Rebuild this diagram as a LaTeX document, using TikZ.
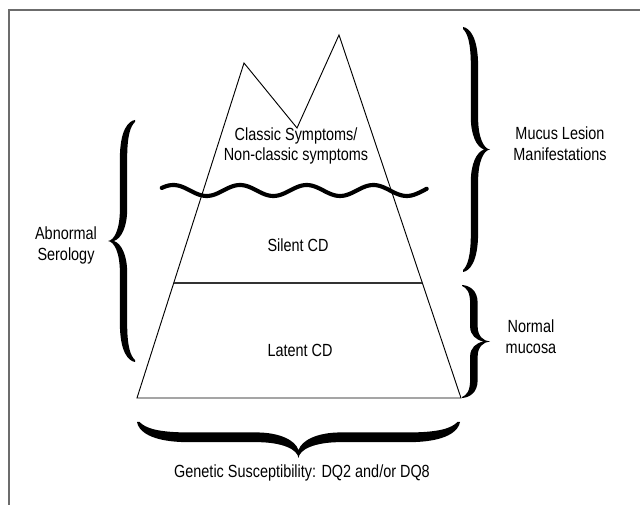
\documentclass[tikz,border=0pt]{standalone}
\usepackage{fontspec}
\setmainfont{Liberation Sans}[FakeStretch=0.82]
\newcommand\mybraceshape{%
\fill (0,0) .. controls (0.24,0.004) and (0.56,0.04) .. (0.56,0.16)
 -- (0.56,0.37) .. controls (0.56,0.45) and (0.76,0.497) .. (1,0.5)
 .. controls (0.76,0.503) and (0.56,0.55) .. (0.56,0.63)
 -- (0.56,0.84) .. controls (0.56,0.96) and (0.24,0.996) .. (0,1)
 -- (0,0.992) .. controls (0.16,0.975) and (0.29,0.94) .. (0.29,0.84)
 -- (0.29,0.63) .. controls (0.29,0.56) and (0.5,0.51) .. (0.78,0.5)
 .. controls (0.5,0.49) and (0.29,0.44) .. (0.29,0.37)
 -- (0.29,0.16) .. controls (0.29,0.06) and (0.16,0.025) .. (0,0.008) -- cycle;}
\begin{document}
\begin{tikzpicture}[x=0.75pt,y=-0.75pt,
  lbl/.style={align=center,inner sep=0pt,font=\fontsize{13.2pt}{15.6pt}\selectfont},
  outline/.style={line width=0.7pt,line join=miter},
  wave/.style={line width=3.1pt,line cap=round}]
\useasboundingbox (0,0) rectangle (640,505);
% frame
\draw[gray!85!black,line width=0.8pt] (9,505) -- (9,10) -- (640,10);
% mountain
\coordinate (bl) at (137,398);
\coordinate (lp) at (244,63);
\coordinate (va) at (297,128);
\coordinate (rp) at (339,35);
\coordinate (br) at (461,398);
\draw[outline] (bl) -- (lp) -- (va) -- (rp) -- (br) -- cycle;
\coordinate (hl) at (173.7,283);
\coordinate (hr) at (422.3,283);
\draw[line width=0.9pt,black!80] (hl) -- (hr);
% water line
\draw[wave] plot[domain=161.7:426.7,samples=120,smooth] (\x,{190.5-5.5*cos(5.3973*(\x-173.3))});
% braces
\begin{scope}[shift={(135,120)}]\begin{scope}[x={(-20.25pt,0pt)},y={(0pt,-181.5pt)}]\mybraceshape\end{scope}\end{scope}
\begin{scope}[shift={(463,27)}]\begin{scope}[x={(20.25pt,0pt)},y={(0pt,-183.75pt)}]\mybraceshape\end{scope}\end{scope}
\begin{scope}[shift={(462,285)}]\begin{scope}[x={(21pt,0pt)},y={(0pt,-84.75pt)}]\mybraceshape\end{scope}\end{scope}
\begin{scope}[shift={(137,422)}]\begin{scope}[x={(0pt,-27pt)},y={(242.25pt,0pt)}]\mybraceshape\end{scope}\end{scope}
% labels
\node[lbl] (classic) at (296,146) {Classic Symptoms/\\Non-classic symptoms};
\node[lbl] (silent) at (298,245) {Silent CD};
\node[lbl] (latent) at (300,350) {Latent CD};
\node[lbl] (serology) at (66,245.5) {Abnormal\\Serology};
\node[lbl] (mucus) at (560,144) {Mucus Lesion\\Manifestations};
\node[lbl] (normal) at (531,336.5) {Normal\\mucosa};
\node[lbl] (genetic) at (302,472.5) {Genetic Susceptibility: DQ2 and/or DQ8};
\end{tikzpicture}
\end{document}
